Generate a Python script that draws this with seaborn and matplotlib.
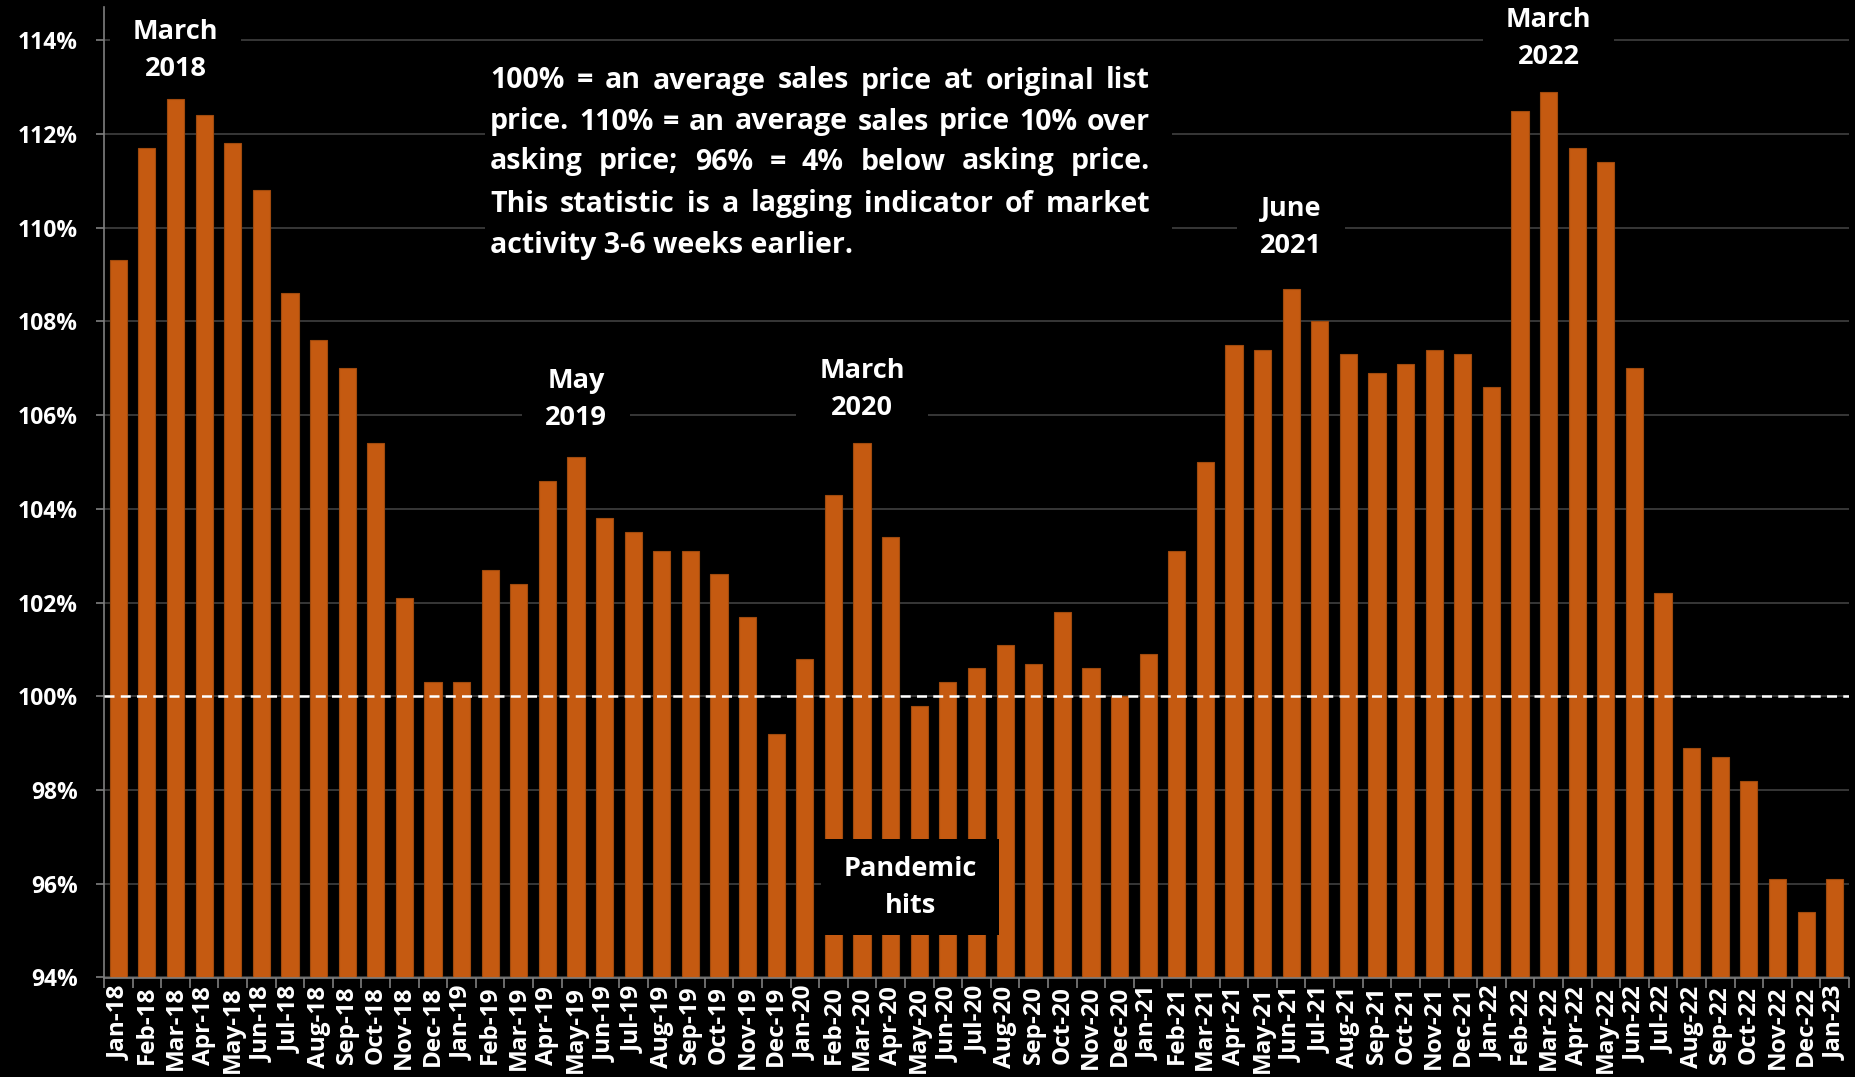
import numpy as np
import pandas as pd
import matplotlib
matplotlib.use("Agg")
import matplotlib.pyplot as plt
import seaborn as sns
from matplotlib.patches import Rectangle

# Data: sales price as % of original list price, monthly
months = ["Jan-18", "Feb-18", "Mar-18", "Apr-18", "May-18", "Jun-18", "Jul-18", "Aug-18",
          "Sep-18", "Oct-18", "Nov-18", "Dec-18", "Jan-19", "Feb-19", "Mar-19", "Apr-19",
          "May-19", "Jun-19", "Jul-19", "Aug-19", "Sep-19", "Oct-19", "Nov-19", "Dec-19",
          "Jan-20", "Feb-20", "Mar-20", "Apr-20", "May-20", "Jun-20", "Jul-20", "Aug-20",
          "Sep-20", "Oct-20", "Nov-20", "Dec-20", "Jan-21", "Feb-21", "Mar-21", "Apr-21",
          "May-21", "Jun-21", "Jul-21", "Aug-21", "Sep-21", "Oct-21", "Nov-21", "Dec-21",
          "Jan-22", "Feb-22", "Mar-22", "Apr-22", "May-22", "Jun-22", "Jul-22", "Aug-22",
          "Sep-22", "Oct-22", "Nov-22", "Dec-22", "Jan-23"]
pct_of_list = [109.3, 111.7, 112.75, 112.4, 111.8, 110.8, 108.6, 107.6,
               107.0, 105.4, 102.1, 100.3, 100.3, 102.7, 102.4, 104.6,
               105.1, 103.8, 103.5, 103.1, 103.1, 102.6, 101.7, 99.2,
               100.8, 104.3, 105.4, 103.4, 99.8, 100.3, 100.6, 101.1,
               100.7, 101.8, 100.6, 100.0, 100.9, 103.1, 105.0, 107.5,
               107.4, 108.7, 108.0, 107.3, 106.9, 107.1, 107.4, 107.3,
               106.6, 112.5, 112.9, 111.7, 111.4, 107.0, 102.2, 98.9,
               98.7, 98.2, 96.1, 95.4, 96.1]
y_ticks = [94, 96, 98, 100, 102, 104, 106, 108, 110, 112, 114]

peak_labels = ["March\n2018", "May\n2019", "March\n2020", "June\n2021", "March\n2022"]
peak_idx = [2, 16, 26, 41, 50]

note_lines = ["100% = an average sales price at original list",
              "price. 110% = an average sales price 10% over",
              "asking price; 96% = 4% below asking price.",
              "This statistic is a lagging indicator of market",
              "activity 3-6 weeks earlier."]

df = pd.DataFrame({"month": months, "pct": pct_of_list})

sns.set_theme(style="dark")
plt.rcParams["font.family"] = ["Open Sans", "DejaVu Sans"]
plt.rcParams["font.weight"] = "bold"

W, H = 1856, 1077
fig = plt.figure(figsize=(W / 100, H / 100), dpi=100, facecolor="black")
ax = fig.add_axes([104 / W, 1 - 977.5 / H, (1849 - 104) / W, (977.5 - 7.4) / H])
ax.set_facecolor("black")

sns.barplot(data=df, x="month", y="pct", color="#C55A11", saturation=1, width=0.6,
            edgecolor="#A04A0E", linewidth=0.8, ax=ax, zorder=2)

ax.set_ylim(94, 114.7)
ax.set_xlim(-0.5, len(months) - 0.5)
ax.set_yticks(y_ticks)
ax.set_yticklabels([f"{v}%" for v in y_ticks])
ax.set_xlabel("")
ax.set_ylabel("")

ax.yaxis.grid(True, color="#404040", linewidth=1.2, zorder=0.5)
ax.xaxis.grid(False)
ax.set_axisbelow(True)

for s in ["top", "right"]:
    ax.spines[s].set_visible(False)
for s in ["left", "bottom"]:
    ax.spines[s].set_visible(True)
    ax.spines[s].set_color("#7f7f7f")
    ax.spines[s].set_linewidth(1.2)

ax.tick_params(axis="y", colors="white", labelsize=16.5, length=6, width=1.2,
               color="#7f7f7f", pad=13, left=True)
ax.tick_params(axis="x", colors="white", labelsize=17.5, length=0, pad=6, rotation=90)
for lab in ax.get_xticklabels() + ax.get_yticklabels():
    lab.set_fontweight("bold")
    lab.set_color("white")
ax.set_xticks(np.arange(len(months) + 1) - 0.5, minor=True)
ax.tick_params(axis="x", which="minor", length=7, width=1.2, color="#7f7f7f", bottom=True)

# 100% reference line
ax.axhline(100, color="white", linestyle=(0, (4, 2.5)), linewidth=1.8, zorder=3)

# peak labels with black boxes breaking the gridlines
peak_y = [113.77, 106.33, 106.54, 110.0, 114.04]
for lab, i, yy in zip(peak_labels, peak_idx, peak_y):
    ax.text(i, yy, lab, ha="center", va="center", color="white", fontsize=19.5,
            fontweight="bold", linespacing=1.55, zorder=0.9,
            bbox=dict(boxstyle="square,pad=0.85", facecolor="black", edgecolor="none"))

# pandemic box on top of bars
ax.add_patch(Rectangle((24.55, 94.9), 6.25, 2.05, facecolor="black", edgecolor="none", zorder=5))
ax.text(27.68, 95.92, "Pandemic\nhits", ha="center", va="center", color="white",
        fontsize=19.5, fontweight="bold", linespacing=1.55, zorder=6)

# justified note block
fig.patches.append(Rectangle((485 / W, 1 - 268 / H), (1172 - 485) / W, (268 - 58) / H,
                             transform=fig.transFigure, facecolor="black",
                             edgecolor="none", zorder=1))
fig.canvas.draw()
rend = fig.canvas.get_renderer()
left_px, right_px = 490, 1150
line_y = [81, 122, 162, 204, 245]
kw = dict(fontsize=20.5, fontweight="bold", color="white", va="center", ha="left", zorder=3)


def text_w(s):
    t = fig.text(0, 0, s, **kw)
    w = t.get_window_extent(rend).width
    t.remove()
    return w


for n, (line, ly) in enumerate(zip(note_lines, line_y)):
    words = line.split(" ")
    if n == len(note_lines) - 1:
        fig.text(left_px / W, 1 - ly / H, line, **kw)
        continue
    widths = [text_w(wd) for wd in words]
    gap = (right_px - left_px - sum(widths)) / (len(words) - 1)
    x = left_px
    for wd, ww in zip(words, widths):
        fig.text(x / W, 1 - ly / H, wd, **kw)
        x += ww + gap

fig.savefig("out.png", dpi=100, facecolor="black")
